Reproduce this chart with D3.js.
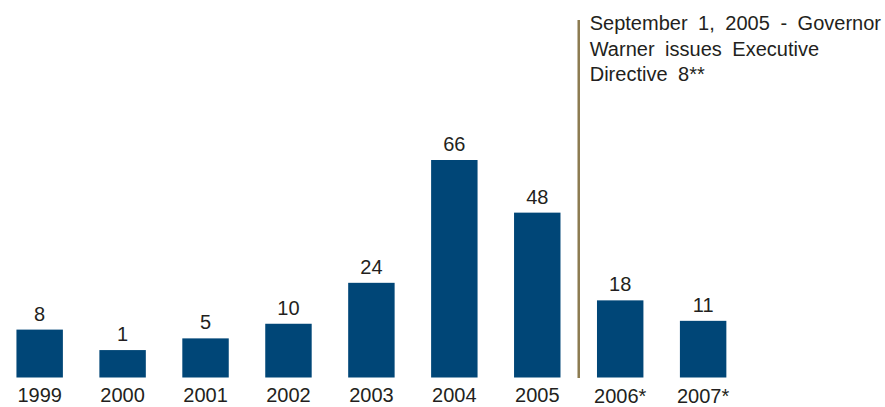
<!DOCTYPE html>
<html>
<head>
<meta charset="utf-8">
<script src="https://cdn.jsdelivr.net/npm/d3@7"></script>
<style>
  html, body { margin: 0; padding: 0; background: #fff; }
  svg { display: block; }
  text { font-family: "Liberation Sans", Arial, Helvetica, sans-serif; fill: #231f20; }
</style>
</head>
<body>
<svg id="chart" width="885" height="407"></svg>
<script>
// ---- data ----
const years = ["1999", "2000", "2001", "2002", "2003", "2004", "2005", "2006*", "2007*"];
const counts = [8, 1, 5, 10, 24, 66, 48, 18, 11];
const afterDirective = ["2006*", "2007*"];
const annotationLines = [
  "September 1, 2005 - Governor",
  "Warner issues Executive",
  "Directive 8**"
];

const data = years.map((y, i) => ({ year: y, value: counts[i] }));

const baseline = 377.5;
const svg = d3.select("#chart");

const x = d3.scaleBand()
  .domain(years)
  .range([-1.8, 744.6])
  .paddingInner(0.44)
  .paddingOuter(0.22);

const y = d3.scaleLinear()
  .domain([0, 66])
  .range([353, 160]);

const barColor = "#004677";
const fontSize = "20px";

// bars
svg.append("g").selectAll("rect")
  .data(data)
  .join("rect")
  .attr("x", d => x(d.year))
  .attr("y", d => y(d.value))
  .attr("width", x.bandwidth())
  .attr("height", d => baseline - y(d.value))
  .attr("fill", barColor);

// value labels
svg.append("g").selectAll("text")
  .data(data)
  .join("text")
  .attr("x", d => x(d.year) + x.bandwidth() / 2)
  .attr("y", d => y(d.value) - 9)
  .attr("text-anchor", "middle")
  .style("font-size", fontSize)
  .text(d => d.value);

// category labels (axis without line/ticks)
const xAxis = d3.axisBottom(x).tickSize(0).tickPadding(0);
const axisG = svg.append("g")
  .attr("transform", `translate(0, ${baseline})`)
  .call(xAxis);
axisG.select(".domain").remove();
axisG.selectAll("text")
  .attr("y", d => afterDirective.includes(d) ? 25.5 : 24.5)
  .attr("dy", 0)
  .style("font-size", fontSize)
  .style("font-family", "'Liberation Sans', Arial, Helvetica, sans-serif")
  .attr("fill", "#231f20");

// divider line between 2005 and 2006
const divX = (x("2005") + x.bandwidth() + x("2006*")) / 2;
svg.append("line")
  .attr("x1", divX).attr("x2", divX)
  .attr("y1", 20).attr("y2", 378)
  .attr("stroke", "#8C7B50")
  .attr("stroke-width", 2.5);

// annotation
const ann = svg.append("text")
  .attr("x", divX + 11)
  .attr("y", 30)
  .style("font-size", fontSize)
  .style("word-spacing", "5px");
ann.selectAll("tspan")
  .data(annotationLines)
  .join("tspan")
  .attr("x", divX + 11)
  .attr("dy", (d, i) => i === 0 ? 0 : 25.6)
  .text(d => d);
</script>
</body>
</html>
